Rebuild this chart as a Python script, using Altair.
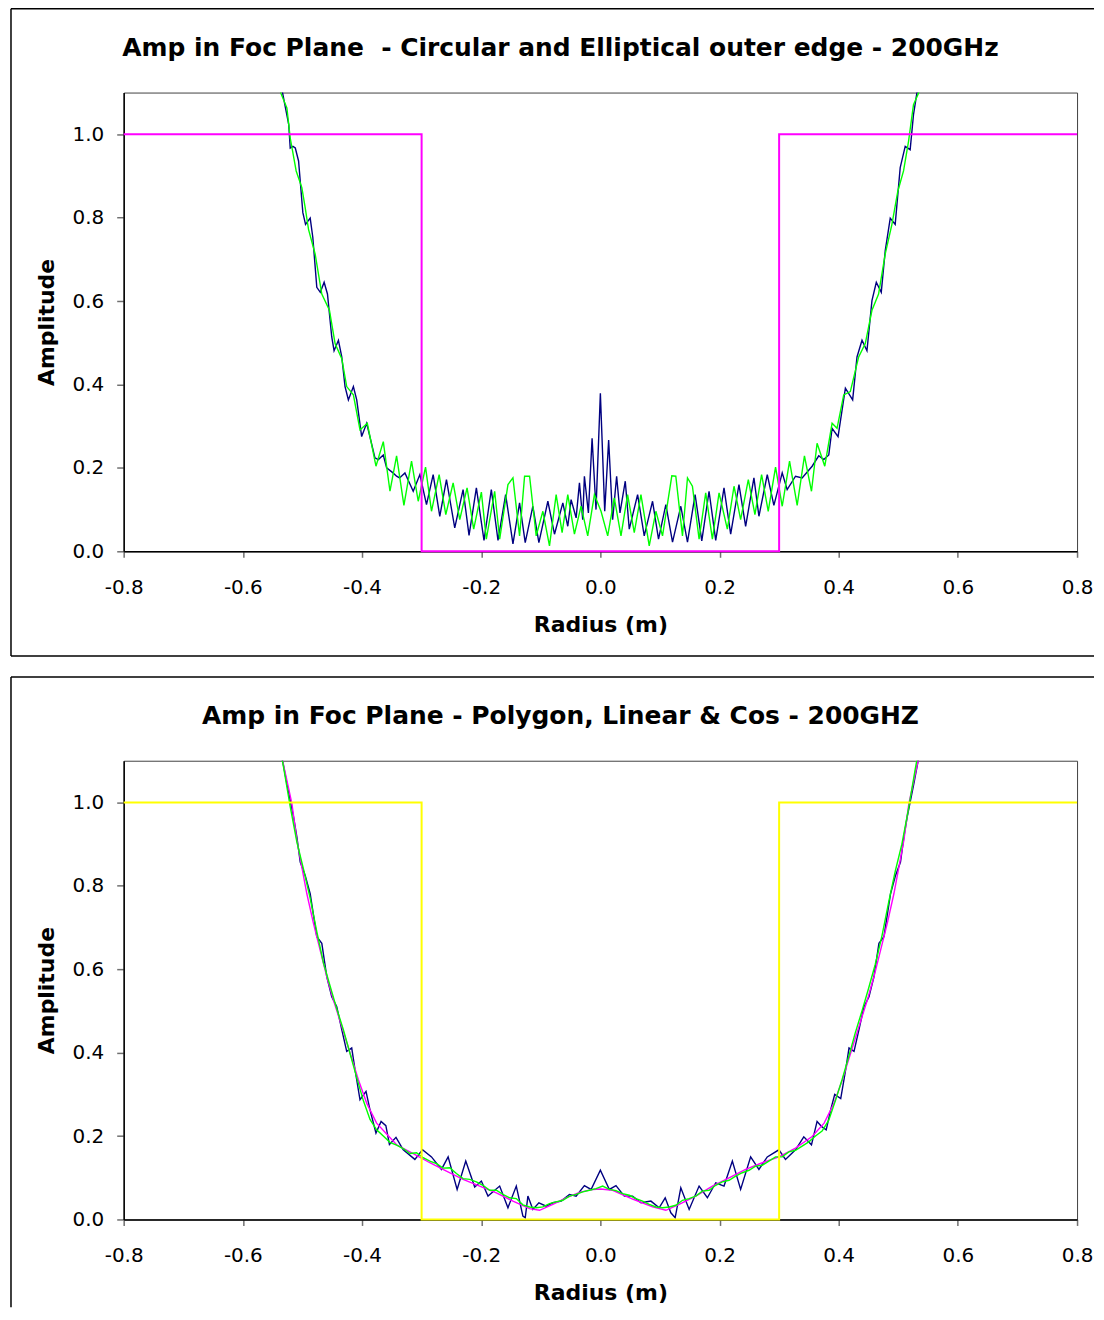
import altair as alt
import pandas as pd

TITLE_1 = "Amp in Foc Plane  - Circular and Elliptical outer edge - 200GHz"
TITLE_2 = "Amp in Foc Plane - Polygon, Linear & Cos - 200GHZ"
X_TITLE = "Radius (m)"
Y_TITLE = "Amplitude"
X_TICKS = [-0.8, -0.6, -0.4, -0.2, 0.0, 0.2, 0.4, 0.6, 0.8]
Y_TICKS = [0.0, 0.2, 0.4, 0.6, 0.8, 1.0]

# aperture step (same in both panels)
STEP_X = [-0.8, -0.3, -0.3, 0.3, 0.3, 0.8]
STEP_Y = [1.0, 1.0, 0.0, 0.0, 1.0, 1.0]

# ---------------- panel 1: circular (navy) & elliptical (green) ----------------
P1_BLUE_X = [
    -0.537, -0.523, -0.5205, -0.516, -0.512, -0.5065, -0.4993, -0.4948, -0.487, -0.4826,
    -0.4759, -0.470, -0.4636, -0.458, -0.4508, -0.4469, -0.4396, -0.434, -0.4285, -0.4229,
    -0.4145, -0.4089, -0.4006, -0.3922, -0.3855, -0.3783, -0.3727, -0.3643, -0.3587, -0.348,
    -0.342, -0.337, -0.328, -0.3141, -0.3029, -0.2918, -0.2806, -0.2695, -0.2583, -0.2444,
    -0.2304, -0.2204, -0.2081, -0.1953, -0.1830, -0.1718, -0.1590, -0.1467, -0.1356, -0.1261,
    -0.1133, -0.1032, -0.0881, -0.0770, -0.0630, -0.0547, -0.0491, -0.0407, -0.0351, -0.0296,
    -0.0268, -0.0201, -0.0139, -0.0073, 0.0, 0.0073, 0.0139, 0.0206, 0.0273, 0.0329,
    0.0418, 0.0485, 0.0625, 0.0736, 0.0876, 0.0976, 0.1099, 0.1211, 0.1350, 0.1462,
    0.1590, 0.1702, 0.1824, 0.1936, 0.2075, 0.2187, 0.2326, 0.2438, 0.2577, 0.2661,
    0.2801, 0.2912, 0.3052, 0.3135, 0.3275, 0.3386, 0.3554, 0.3665, 0.3749, 0.3833,
    0.3889, 0.3989, 0.4112, 0.4234, 0.4307, 0.4391, 0.4474, 0.4558, 0.4631, 0.4714,
    0.4781, 0.4865, 0.4948, 0.5032, 0.5116, 0.5199, 0.5255, 0.5311, 0.537]
P1_BLUE_Y = [
    1.126, 1.023, 0.967, 0.971, 0.967, 0.936, 0.812, 0.784, 0.799, 0.753,
    0.633, 0.621, 0.645, 0.617, 0.514, 0.481, 0.506, 0.466, 0.395, 0.363,
    0.395, 0.363, 0.275, 0.307, 0.267, 0.224, 0.220, 0.231, 0.200, 0.188,
    0.180, 0.176, 0.188, 0.144, 0.184, 0.112, 0.184, 0.084, 0.172, 0.056,
    0.148, 0.038, 0.152, 0.026, 0.148, 0.026, 0.136, 0.018, 0.116, 0.021,
    0.108, 0.021, 0.120, 0.041, 0.116, 0.060, 0.124, 0.080, 0.164, 0.076,
    0.180, 0.092, 0.271, 0.100, 0.379, 0.096, 0.267, 0.076, 0.180, 0.092,
    0.168, 0.053, 0.136, 0.037, 0.120, 0.029, 0.112, 0.022, 0.108, 0.022,
    0.136, 0.025, 0.144, 0.026, 0.152, 0.041, 0.160, 0.060, 0.176, 0.084,
    0.184, 0.110, 0.188, 0.148, 0.180, 0.176, 0.204, 0.229, 0.220, 0.231,
    0.295, 0.275, 0.391, 0.363, 0.466, 0.506, 0.481, 0.601, 0.645, 0.621,
    0.721, 0.799, 0.784, 0.920, 0.971, 0.963, 1.047, 1.098, 1.140]

P1_GREEN_X = [
    -0.545, -0.5361, -0.5261, -0.5205, -0.5105, -0.5010, -0.4954, -0.4898, -0.4787, -0.4675,
    -0.4547, -0.4452, -0.4340, -0.4257, -0.4145, -0.4034, -0.3911, -0.3766, -0.3643, -0.3531,
    -0.3420, -0.3297, -0.3169, -0.3057, -0.2934, -0.2834, -0.2706, -0.2594, -0.2471, -0.2360,
    -0.2237, -0.2126, -0.1997, -0.1914, -0.1774, -0.1690, -0.1551, -0.1467, -0.1356, -0.1272,
    -0.1188, -0.1077, -0.0965, -0.0854, -0.0742, -0.0642, -0.0547, -0.0435, -0.0324, -0.0212,
    -0.0100, 0.0011, 0.0123, 0.0234, 0.0346, 0.0457, 0.0569, 0.0681, 0.0820, 0.0932,
    0.1043, 0.1199, 0.1266, 0.1378, 0.1462, 0.1545, 0.1657, 0.1768, 0.1880, 0.1992,
    0.2131, 0.2243, 0.2354, 0.2483, 0.2594, 0.2706, 0.2817, 0.2940, 0.3052, 0.3175,
    0.3303, 0.3425, 0.3543, 0.3637, 0.3766, 0.3889, 0.3972, 0.4084, 0.4195, 0.4335,
    0.4446, 0.4558, 0.4669, 0.4781, 0.4893, 0.4993, 0.5088, 0.5172, 0.5255, 0.5339,
    0.545]
P1_GREEN_Y = [
    1.160, 1.098, 1.063, 0.991, 0.912, 0.872, 0.824, 0.772, 0.713, 0.617,
    0.578, 0.498, 0.462, 0.395, 0.375, 0.291, 0.307, 0.204, 0.263, 0.144,
    0.229, 0.110, 0.216, 0.120, 0.202, 0.096, 0.184, 0.088, 0.164, 0.076,
    0.152, 0.053, 0.142, 0.029, 0.144, 0.029, 0.160, 0.176, 0.037, 0.180,
    0.180, 0.037, 0.096, 0.013, 0.136, 0.045, 0.136, 0.041, 0.108, 0.037,
    0.136, 0.096, 0.037, 0.128, 0.037, 0.136, 0.045, 0.136, 0.013, 0.096,
    0.037, 0.181, 0.180, 0.037, 0.176, 0.156, 0.029, 0.140, 0.029, 0.140,
    0.053, 0.156, 0.076, 0.172, 0.088, 0.184, 0.096, 0.202, 0.108, 0.216,
    0.110, 0.229, 0.144, 0.259, 0.204, 0.307, 0.295, 0.375, 0.383, 0.466,
    0.498, 0.578, 0.617, 0.713, 0.784, 0.864, 0.912, 0.983, 1.071, 1.098,
    1.170]

# ---------------- panel 2: polygon (navy), linear (magenta), cos (green) ----------------
P2_BLUE_X = [
    -0.545, -0.5333, -0.5261, -0.5149, -0.5093, -0.5037, -0.4954, -0.4870, -0.4759, -0.4675,
    -0.4591, -0.4508, -0.4424, -0.4340, -0.4257, -0.4173, -0.4117, -0.4034, -0.3933, -0.3866,
    -0.3766, -0.3680, -0.3600, -0.3540, -0.3430, -0.3308, -0.3113, -0.2985, -0.2834, -0.2667,
    -0.2555, -0.2404, -0.2259, -0.2109, -0.1997, -0.1886, -0.1690, -0.1551, -0.1411, -0.1300,
    -0.1261, -0.1216, -0.1133, -0.1032, -0.0909, -0.0798, -0.0658, -0.0519, -0.0407, -0.0268,
    -0.0156, 0.0, 0.0151, 0.0262, 0.0402, 0.0541, 0.0681, 0.0848, 0.0987, 0.1088,
    0.1183, 0.1255, 0.1350, 0.1490, 0.1657, 0.1796, 0.1936, 0.2075, 0.2215, 0.2354,
    0.2522, 0.2661, 0.2801, 0.2996, 0.3107, 0.3275, 0.3414, 0.3543, 0.3637, 0.3720,
    0.3790, 0.3866, 0.3933, 0.4034, 0.4117, 0.4173, 0.4257, 0.4340, 0.4424, 0.4508,
    0.4591, 0.4675, 0.4759, 0.4870, 0.4954, 0.5037, 0.5093, 0.5149, 0.5261, 0.5333,
    0.545]
P2_BLUE_Y = [
    1.200, 1.100, 1.045, 0.965, 0.917, 0.857, 0.825, 0.781, 0.678, 0.662,
    0.582, 0.534, 0.510, 0.455, 0.403, 0.411, 0.359, 0.287, 0.307, 0.263,
    0.207, 0.235, 0.225, 0.180, 0.197, 0.167, 0.144, 0.167, 0.150, 0.120,
    0.150, 0.072, 0.140, 0.078, 0.092, 0.056, 0.080, 0.028, 0.080, 0.008,
    0.004, 0.056, 0.024, 0.040, 0.032, 0.040, 0.044, 0.060, 0.056, 0.081,
    0.072, 0.118, 0.072, 0.081, 0.056, 0.056, 0.040, 0.044, 0.028, 0.052,
    0.016, 0.004, 0.076, 0.024, 0.080, 0.052, 0.088, 0.080, 0.140, 0.072,
    0.150, 0.120, 0.150, 0.167, 0.144, 0.167, 0.198, 0.179, 0.235, 0.222,
    0.215, 0.263, 0.300, 0.290, 0.359, 0.411, 0.403, 0.455, 0.510, 0.534,
    0.582, 0.662, 0.678, 0.781, 0.825, 0.857, 0.917, 0.965, 1.045, 1.100,
    1.200]

P2_MAG_X = [
    -0.545, -0.5333, -0.5261, -0.5177, -0.5093, -0.5010, -0.4926, -0.4815, -0.4703, -0.4591,
    -0.4480, -0.4340, -0.4201, -0.4061, -0.3922, -0.3755, -0.3587, -0.3420, -0.3141, -0.2862,
    -0.2583, -0.2304, -0.2025, -0.1746, -0.1467, -0.1188, -0.1021, -0.0798, -0.0575, -0.0351,
    -0.0128, 0.0, 0.0206, 0.0541, 0.0876, 0.1099, 0.1322, 0.1601, 0.1880, 0.2159,
    0.2438, 0.2717, 0.2996, 0.3275, 0.3554, 0.3755, 0.3922, 0.4061, 0.4201, 0.4340,
    0.4480, 0.4591, 0.4703, 0.4815, 0.4926, 0.5010, 0.5093, 0.5177, 0.5261, 0.5333,
    0.545]
P2_MAG_Y = [
    1.190, 1.100, 1.053, 0.997, 0.909, 0.845, 0.781, 0.710, 0.646, 0.582,
    0.526, 0.463, 0.399, 0.335, 0.279, 0.231, 0.205, 0.179, 0.158, 0.136,
    0.116, 0.096, 0.080, 0.064, 0.044, 0.026, 0.022, 0.036, 0.052, 0.065,
    0.072, 0.073, 0.070, 0.049, 0.030, 0.022, 0.036, 0.056, 0.080, 0.100,
    0.120, 0.136, 0.150, 0.171, 0.199, 0.231, 0.279, 0.335, 0.399, 0.463,
    0.526, 0.582, 0.646, 0.710, 0.781, 0.845, 0.909, 0.997, 1.053, 1.100,
    1.190]

P2_GREEN_X = [
    -0.545, -0.5333, -0.5205, -0.5093, -0.4982, -0.4870, -0.4759, -0.4647, -0.4536, -0.4424,
    -0.4313, -0.4201, -0.4089, -0.3978, -0.3866, -0.3755, -0.3643, -0.3531, -0.3420, -0.3308,
    -0.3197, -0.3085, -0.2974, -0.2862, -0.2750, -0.2639, -0.2527, -0.2416, -0.2304, -0.2193,
    -0.2081, -0.1970, -0.1858, -0.1746, -0.1635, -0.1523, -0.1411, -0.1300, -0.1188, -0.1077,
    -0.0965, -0.0854, -0.0742, -0.0630, -0.0519, -0.0407, -0.0296, -0.0184, -0.0073, 0.0039,
    0.0150, 0.0262, 0.0374, 0.0485, 0.0597, 0.0709, 0.0820, 0.0932, 0.1043, 0.1155,
    0.1266, 0.1378, 0.1489, 0.1601, 0.1712, 0.1824, 0.1936, 0.2047, 0.2159, 0.2270,
    0.2382, 0.2494, 0.2605, 0.2717, 0.2828, 0.2940, 0.3052, 0.3163, 0.3275, 0.3386,
    0.3498, 0.3610, 0.3721, 0.3833, 0.3945, 0.4056, 0.4168, 0.4279, 0.4391, 0.4503,
    0.4614, 0.4726, 0.4837, 0.4949, 0.5060, 0.5172, 0.5284, 0.5400]
P2_GREEN_Y = [
    1.180, 1.098, 0.990, 0.905, 0.840, 0.770, 0.690, 0.615, 0.560, 0.505,
    0.455, 0.398, 0.340, 0.285, 0.240, 0.215, 0.200, 0.185, 0.178, 0.170,
    0.158, 0.160, 0.148, 0.140, 0.134, 0.123, 0.124, 0.110, 0.098, 0.096,
    0.090, 0.082, 0.070, 0.070, 0.060, 0.052, 0.050, 0.035, 0.030, 0.028,
    0.030, 0.038, 0.042, 0.046, 0.056, 0.060, 0.066, 0.070, 0.074, 0.080,
    0.072, 0.069, 0.062, 0.058, 0.050, 0.044, 0.036, 0.030, 0.028, 0.030,
    0.034, 0.046, 0.050, 0.056, 0.068, 0.070, 0.082, 0.090, 0.094, 0.104,
    0.112, 0.118, 0.128, 0.130, 0.140, 0.150, 0.150, 0.162, 0.166, 0.176,
    0.186, 0.200, 0.212, 0.238, 0.285, 0.335, 0.390, 0.448, 0.500, 0.555,
    0.612, 0.680, 0.760, 0.835, 0.900, 0.985, 1.080, 1.170]

FONT = "DejaVu Sans"
NAVY = "#000080"
GREEN = "#00FF00"
MAGENTA = "#FF00FF"
YELLOW = "#FFFF00"


def frame_df(xs, ys):
    return pd.DataFrame({"x": xs, "y": ys, "i": list(range(len(xs)))})


X_SCALE = alt.Scale(domain=[-0.8, 0.8], nice=False, zero=False)
Y_SCALE = alt.Scale(domain=[0, 1.1], nice=False, zero=False)

X_AXIS = alt.Axis(
    values=X_TICKS, grid=False, tickSize=6, labelPadding=20, titlePadding=17,
    labelFlush=False, labelOverlap=False,
    labelExpr="(datum.value < -0.0001 ? '-' : '') + format(abs(datum.value), '.1f')",
)
Y_AXIS = alt.Axis(values=Y_TICKS, format=".1f", grid=False, tickSize=7,
                  labelPadding=13, titlePadding=14, labelFlush=False)


def series(xs, ys, color, clip=True, width=1.4):
    return alt.Chart(frame_df(xs, ys)).mark_line(
        color=color, strokeWidth=width, clip=clip
    ).encode(
        x=alt.X("x:Q", scale=X_SCALE, axis=X_AXIS, title=X_TITLE),
        y=alt.Y("y:Q", scale=Y_SCALE, axis=Y_AXIS, title=Y_TITLE),
        order="i:Q",
    )


ONE = pd.DataFrame({"k": [0]})
LEFT, RIGHT, TOP = -113, 973, -84


def hline(yv):
    return alt.Chart(ONE).mark_rule(color="black", strokeWidth=1.5).encode(
        x=alt.value(LEFT), x2=alt.value(RIGHT), y=alt.value(yv))


def vline(y_bottom):
    return alt.Chart(ONE).mark_rule(color="black", strokeWidth=1.5).encode(
        x=alt.value(LEFT), y=alt.value(TOP), y2=alt.value(y_bottom))


def heading(text):
    return alt.Chart(ONE).mark_text(
        text=text.replace("  ", " \u00a0"), font=FONT, fontSize=25,
        fontWeight="bold", color="black", align="center", baseline="middle",
    ).encode(x=alt.value(438), y=alt.value(-45))


panel1 = alt.layer(
    hline(TOP), vline(565), hline(565),
    series(P1_BLUE_X, P1_BLUE_Y, NAVY),
    series(P1_GREEN_X, P1_GREEN_Y, GREEN),
    series(STEP_X, STEP_Y, MAGENTA, clip=False, width=2),
    heading(TITLE_1),
).properties(width=956, height=460)

panel2 = alt.layer(
    hline(TOP), vline(548),
    series(P2_BLUE_X, P2_BLUE_Y, NAVY),
    series(P2_MAG_X, P2_MAG_Y, MAGENTA),
    series(P2_GREEN_X, P2_GREEN_Y, GREEN),
    series(STEP_X, STEP_Y, YELLOW, clip=False, width=2),
    heading(TITLE_2),
).properties(width=956, height=460)

chart = alt.vconcat(panel1, panel2, spacing=17).properties(
    padding={"left": 1, "top": -3, "right": 0, "bottom": 0},
    background="white",
).configure_view(
    stroke="#404040", strokeWidth=1
).configure_axis(
    labelFont=FONT, labelFontSize=20, labelColor="black",
    titleFont=FONT, titleFontSize=22, titleFontWeight="bold", titleColor="black",
    domainColor="black", domainWidth=1.5, tickColor="#707070", tickWidth=1.5,
)

chart.save("out.html", embed_options={"renderer": "svg", "actions": False})
